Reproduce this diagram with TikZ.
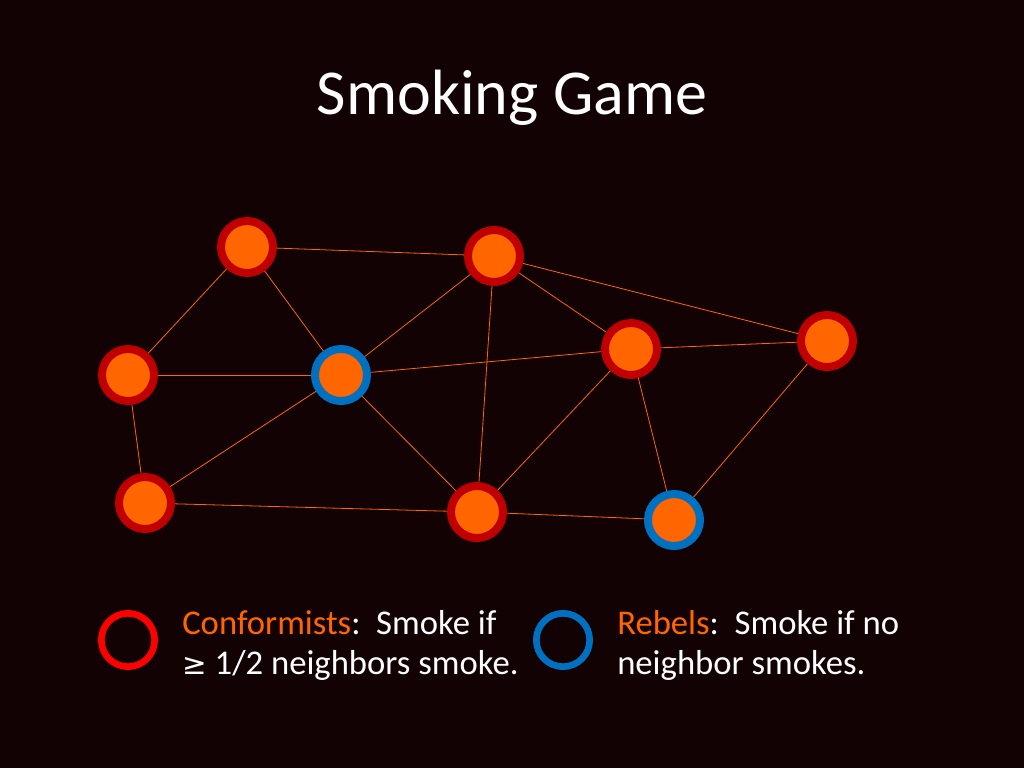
\documentclass[tikz,border=0pt]{standalone}
\usepackage{fontspec}
\setmainfont{Carlito}
\newfontfamily\symfont{DejaVu Sans}
\usetikzlibrary{positioning}
\definecolor{bgdark}{HTML}{120203}
\definecolor{ringred}{HTML}{C00000}
\definecolor{dotorange}{HTML}{FF6600}
\definecolor{ringblue}{HTML}{0070C0}
\definecolor{legred}{HTML}{FF0000}
\begin{document}
\begin{tikzpicture}[x=0.75pt,y=-0.75pt]
		\tikzset{conf/.style = {shape=circle,fill=dotorange,draw=ringred,line width=6pt,minimum size=39pt,inner sep=0pt}}
		\tikzset{reb/.style = {conf,draw=ringblue}}
		\tikzset{tie/.style = {draw=dotorange,line width=0.6pt}}
		\tikzset{legtext/.style = {text=white,font=\fontsize{26}{30}\selectfont,align=left,anchor=north west,inner sep=0pt}}

		\fill[bgdark] (0,0) rectangle (1024,768);
		\node[text=white,font=\fontsize{48}{54}\selectfont] (title) at (512,98) {Smoking Game};

		% people
		\node[conf] (a) at (247,247){};
		\node[conf] (b) at (494,256){};
		\node[conf] (c) at (128,375){};
		\node[reb] (d) at (341,375){};
		\node[conf] (e) at (631,349){};
		\node[conf] (f) at (827,341){};
		\node[conf] (g) at (145,503){};
		\node[conf] (h) at (477,512){};
		\node[reb] (i) at (674,520){};

		% ties
		\foreach \u/\v in {a/b,a/c,a/d,b/d,b/e,b/f,b/h,c/d,c/g,d/e,d/g,d/h,e/f,e/h,e/i,f/i,g/h,h/i}
			\draw[tie] (\u) -- (\v);

		% legend
		\node[shape=circle,draw=legred,line width=5pt,minimum size=40pt] (lconf) at (128,640){};
		\node[shape=circle,draw=ringblue,line width=5pt,minimum size=40pt] (lreb) at (563,640){};
		\node[legtext] (tconf) at (182,610) {\textcolor{dotorange}{Conformists}:\ \ Smoke if\\{\symfont\fontsize{22}{30}\selectfont≥} 1/2 neighbors smoke.};
		\node[legtext] (treb) at (617,610) {\textcolor{dotorange}{Rebels}:\ \ Smoke if no\\neighbor smokes.};
	\end{tikzpicture}
\end{document}
